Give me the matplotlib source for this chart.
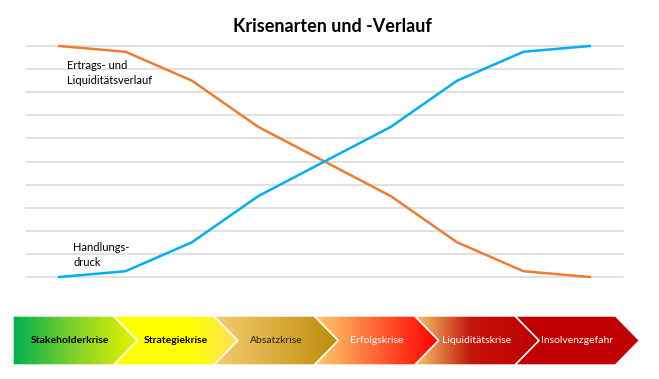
import numpy as np
import matplotlib.pyplot as plt
from matplotlib.patches import Polygon
from matplotlib.colors import LinearSegmentedColormap

# --- data ---
phases = [1, 2, 3, 4, 5, 6, 7, 8, 9]
ertrag = [100, 97.5, 85, 65, 50, 35, 15, 2.5, 0]
handlungsdruck = [0, 2.5, 15, 35, 50, 65, 85, 97.5, 100]
krisen = ["Stakeholderkrise", "Strategiekrise", "Absatzkrise",
          "Erfolgskrise", "Liquiditätskrise", "Insolvenzgefahr"]

# gradient stops per chevron (position, colour)
gradients = [
    [(0.0, "#00B050"), (0.5, "#82D228"), (1.0, "#E6F500")],
    [(0.0, "#FFFF00"), (0.6, "#FFFF00"), (1.0, "#FFE15A")],
    [(0.0, "#F5CD6E"), (1.0, "#BE8C0A")],
    [(0.0, "#FFCD6E"), (0.6, "#FF5028"), (1.0, "#FF0000")],
    [(0.0, "#F5C86E"), (0.45, "#C3140A"), (1.0, "#C00000")],
    [(0.0, "#C00000"), (1.0, "#C00000")],
]
text_colors = ["black", "black", "#222222", "white", "white", "white"]
text_weights = ["bold", "bold", "normal", "normal", "normal", "normal"]

plt.rcParams["font.family"] = ["Lato", "DejaVu Sans"]

W, H = 659, 379
fig = plt.figure(figsize=(W / 100, H / 100), dpi=100)

# --- line chart ---
left, right, top, bottom = 26, 623, 46, 277
ax = fig.add_axes([left / W, 1 - bottom / H, (right - left) / W, (bottom - top) / H])
ax.set_xlim(0.5, 9.5)
ax.set_ylim(0, 100)
for v in range(0, 101, 10):
    ax.axhline(v, color="#D9D9D9", lw=1.1, zorder=0, clip_on=False)
ax.plot(phases, ertrag, color="#ED7D31", lw=1.8, clip_on=False)
ax.plot(phases, handlungsdruck, color="#00B0F0", lw=1.8, clip_on=False)
for s in ax.spines.values():
    s.set_visible(False)
ax.set_xticks([])
ax.set_yticks([])
ax.text(1.12, 88.5, "Ertrags- und\nLiquiditätsverlauf", fontsize=8, va="center",
        ha="left", linespacing=1.45)
ax.text(1.21, 9.5, "Handlungs-\ndruck", fontsize=8, va="center", ha="left",
        linespacing=1.45)

fig.text(332 / W, 1 - 27 / H, "Krisenarten und -Verlauf", fontsize=13,
         fontweight="bold", ha="center", va="center")

# --- chevron banner ---
bx = fig.add_axes([0, 0, 1, 1])
bx.set_xlim(0, W)
bx.set_ylim(H, 0)
bx.axis("off")
btop, bbot = 316, 365
mid = (btop + bbot) / 2
step, d = 100.4, 24
for i, name in enumerate(krisen):
    x0 = 13 + step * i
    x1 = x0 + step
    pts = [(x0, btop), (x1, btop), (x1 + d, mid), (x1, bbot), (x0, bbot)]
    if i > 0:
        pts.append((x0 + d, mid))
    poly = Polygon(pts, closed=True, facecolor="none", edgecolor="white", lw=1, zorder=3)
    bx.add_patch(poly)
    cmap = LinearSegmentedColormap.from_list(f"g{i}", gradients[i])
    grad = np.linspace(0, 1, 256).reshape(1, -1)
    im = bx.imshow(grad, cmap=cmap, extent=(x0, x1 + d, bbot, btop),
                   aspect="auto", zorder=2, interpolation="bilinear")
    im.set_clip_path(poly)
    cx = x0 + step / 2 + (d / 2 if i > 0 else 0) + (0 if i > 0 else 7)
    bx.text(cx, mid, name, fontsize=7.5, color=text_colors[i],
            fontweight=text_weights[i], ha="center", va="center", zorder=4)

fig.savefig("out.png", dpi=100)
